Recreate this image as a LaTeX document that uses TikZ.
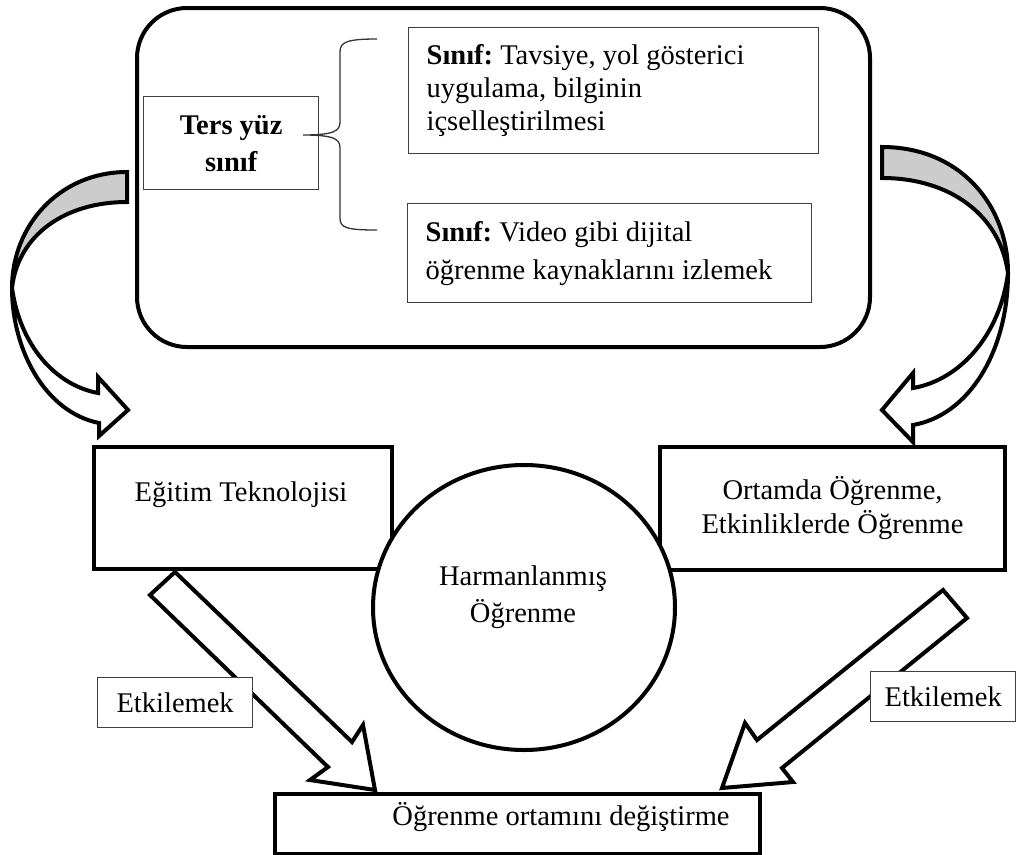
\documentclass[tikz,border=0pt]{standalone}
\usepackage{fontspec}
\setmainfont{Liberation Serif}
\usetikzlibrary{shapes.geometric}
\frenchspacing
\begin{document}
\begin{tikzpicture}[x=1pt,y=-1pt,
  every node/.style={font=\fontsize{28.5}{33}\selectfont},
  thickbox/.style={draw=black, line width=4pt, fill=white, inner sep=0pt, anchor=north west},
  thinbox/.style={draw=black!75, line width=1.3pt, fill=white, anchor=north west},
  blockarrow/.style={draw=black, line width=4pt, line join=miter, fill=white},
  curvearrow/.style={draw=black, line width=4pt, line join=miter},
  txt/.style={inner sep=0pt, align=center}]
\useasboundingbox (0,0) rectangle (1017,854);

% curved arrows (left)
\path[curvearrow, fill=black!20] (127,172) .. controls (60,172) and (12,225) .. (12,288)
   .. controls (18,235) and (65,202) .. (127,202) -- cycle;
\path[curvearrow, fill=white] (12,288) .. controls (12,350) and (45,412) .. (99,423)
   -- (99,436) -- (128,410) -- (98,377) -- (98,393)
   .. controls (55,385) and (20,345) .. (12,288) -- cycle;
% curved arrows (right)
\path[curvearrow, fill=black!20] (882,147) .. controls (960,147) and (1008,205) .. (1008,273)
   .. controls (1000,215) and (950,178) .. (882,178) -- cycle;
\path[curvearrow, fill=white] (1008,273) .. controls (1008,350) and (970,415) .. (913,425)
   -- (913,442) -- (882,410) -- (913,373) -- (913,388)
   .. controls (960,380) and (1000,335) .. (1008,273) -- cycle;

% container
\node[draw, line width=4pt, rounded corners=50pt, minimum width=733pt, minimum height=339pt, anchor=north west] (frame) at (135,6) {};

\node[thinbox, minimum width=175pt, minimum height=93pt, align=center, inner sep=0pt,
      font=\bfseries\fontsize{28.5}{37}\selectfont] (tys) at (143,96) {Ters yüz\\sınıf};

\node[thinbox, text width=374pt, inner xsep=18pt, minimum height=126pt, align=flush left] (s1) at (408,27)
  {\textbf{Sınıf:} Tavsiye, yol gösterici\\uygulama, bilginin\\içselleştirilmesi};
\node[thinbox, text width=368pt, inner xsep=18pt, minimum height=99pt, align=flush left,
      font=\fontsize{28.5}{38}\selectfont] (s2) at (407,203)
  {\textbf{Sınıf:} Video gibi dijital\\öğrenme kaynaklarını izlemek};

% brace
\draw[line width=1.3pt, black!80] (377,39) .. controls (347,39) and (340,42) .. (340,52) -- (340,122)
   .. controls (340,131) and (334,135) .. (303,135)
   .. controls (334,135) and (340,139) .. (340,148) -- (340,218)
   .. controls (340,228) and (347,230) .. (377,230);

% block arrows
\path[blockarrow] (150,595) -- (175,572) -- (352,742) -- (363,725) -- (375,790) -- (310,780) -- (328,767) -- cycle;
\path[blockarrow] (943,590) -- (967,618) -- (782,768) -- (793,782) -- (722,788) -- (745,723) -- (757,740) -- cycle;

% lower boxes
\node[thickbox, minimum width=298pt, minimum height=122pt] (et) at (92,445) {};
\node[txt] (ett) at (241,495) {Eğitim Teknolojisi};
\node[thickbox, minimum width=345pt, minimum height=123pt, align=center,
      font=\fontsize{28.5}{34}\selectfont] (ot) at (658,445) {Ortamda Öğrenme,\\Etkinliklerde Öğrenme};
\node[draw, line width=4pt, fill=white, ellipse, inner sep=0pt, minimum width=302pt, minimum height=285pt] (hb) at (524,607.5) {};
\node[txt, font=\fontsize{28.5}{37}\selectfont] (hbt) at (523,597) {Harmanlanmış\\Öğrenme};
\node[thickbox, minimum width=485pt, minimum height=60pt] (ob) at (273,792) {};
\node[txt] (obt) at (561,817) {Öğrenme ortamını değiştirme};

% labels
\node[thinbox, minimum width=155pt, minimum height=50pt, inner sep=0pt] (e1) at (97,677) {Etkilemek};
\node[thinbox, minimum width=145pt, minimum height=50pt, inner sep=0pt] (e2) at (870,671) {Etkilemek};
\end{tikzpicture}
\end{document}
